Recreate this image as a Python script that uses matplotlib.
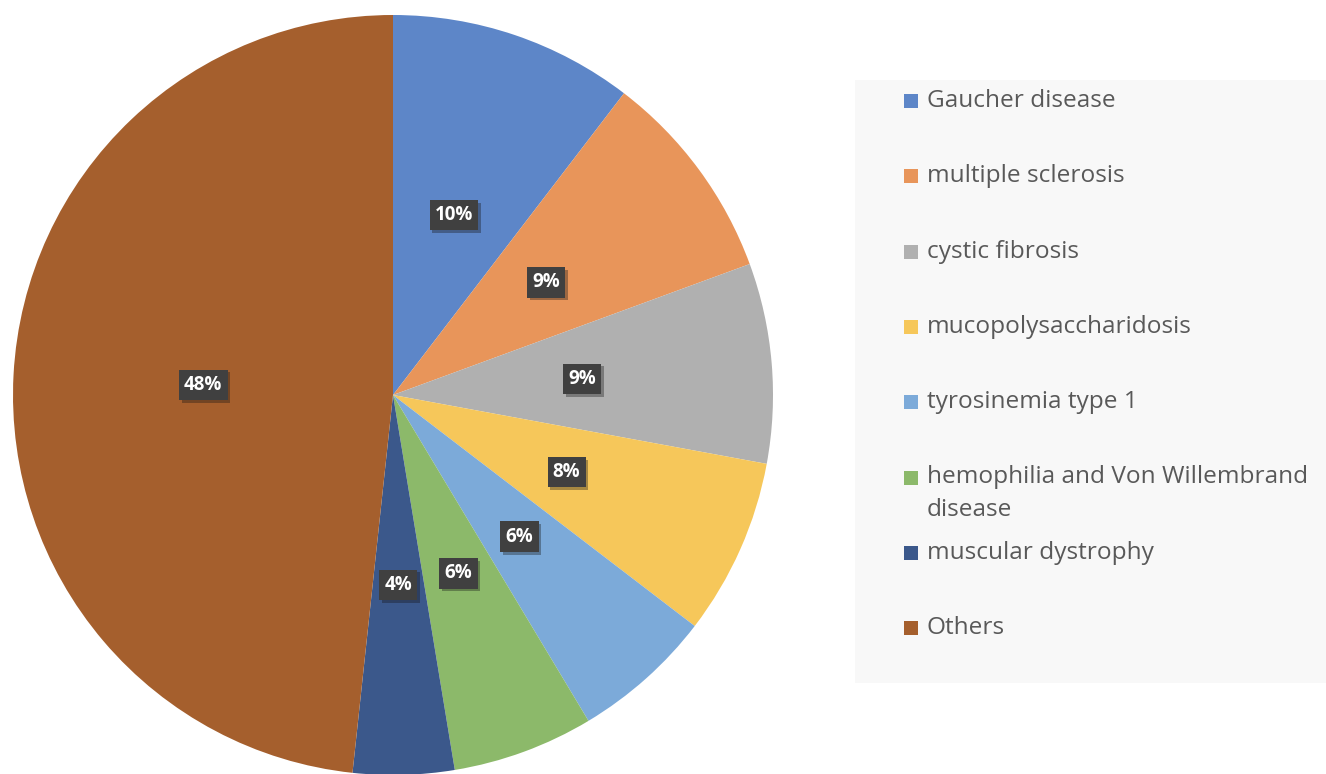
import matplotlib.pyplot as plt
from matplotlib.patches import Rectangle
import matplotlib.patheffects as pe

# ---------------------------- data ----------------------------
labels = ["Gaucher disease", "multiple sclerosis", "cystic fibrosis",
          "mucopolysaccharidosis", "tyrosinemia type 1",
          "hemophilia and Von Willembrand\ndisease", "muscular dystrophy", "Others"]
shares = [10.4, 9.0, 8.5, 7.5, 6.0, 6.0, 4.3, 48.3]
colors = ["#5d86c8", "#e8955a", "#b0b0b0", "#f6c75a",
          "#7caad9", "#8cb96a", "#3b588b", "#a55f2d"]

W, H = 1326, 774
plt.rcParams['font.family'] = ['Open Sans', 'DejaVu Sans']
fig = plt.figure(figsize=(W / 100, H / 100), dpi=100)

# ---------------------------- pie ----------------------------
ax = fig.add_axes([13 / W, -1 / H, 760 / W, 760 / H])
wedges, texts, autotexts = ax.pie(shares, colors=colors, startangle=90, counterclock=False,
                                  autopct=lambda p: '%d%%' % int(p + 0.5),
                                  pctdistance=0.5, radius=1,
                                  wedgeprops=dict(linewidth=0))
for t in autotexts:
    t.set_color('white')
    t.set_fontsize(13.5)
    t.set_fontweight('bold')
    t.set_bbox(dict(boxstyle='square,pad=0.28', facecolor='#404040', edgecolor='none'))
    t.get_bbox_patch().set_path_effects([pe.SimplePatchShadow(offset=(2, -2), alpha=0.35),
                                         pe.Normal()])
ax.set_xlim(-1, 1)
ax.set_ylim(-1, 1)
ax.axis('off')

# ---------------------------- legend ----------------------------
fig.patches.append(Rectangle((855 / W, 1 - 683 / H), (W - 855) / W, (683 - 80) / H,
                             transform=fig.transFigure, facecolor='#f8f8f8',
                             edgecolor='none', zorder=0))
for i, (lab, c) in enumerate(zip(labels, colors)):
    y = 101 + 75.3 * i
    fig.patches.append(Rectangle((904 / W, 1 - (y + 7) / H), 14 / W, 14 / H,
                                 transform=fig.transFigure, facecolor=c,
                                 edgecolor='none', zorder=2))
    for k, line in enumerate(lab.split('\n')):
        fig.text(927 / W, 1 - (y + 33 * k) / H, line, fontsize=17.6,
                 color='#595959', va='center', ha='left')

fig.savefig('out.png', dpi=100)
